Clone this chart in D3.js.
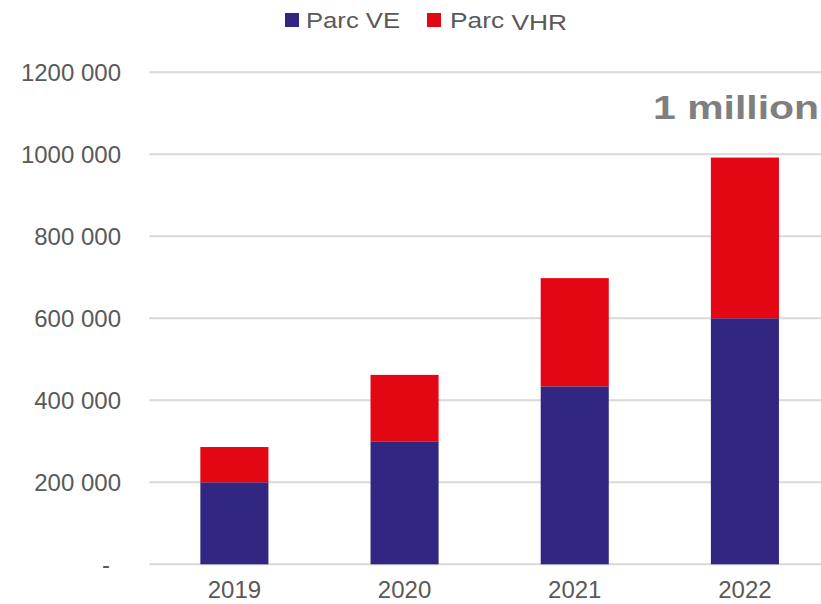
<!DOCTYPE html>
<html>
<head>
<meta charset="utf-8">
<script src="https://cdn.jsdelivr.net/npm/d3@7"></script>
<style>
  body { margin: 0; background: #fff; }
  svg { display: block; font-family: "Liberation Sans", Arial, sans-serif; }
</style>
</head>
<body>
<script>
// data
var years = ['2019', '2020', '2021', '2022'];
var parcVE = [200000, 300000, 434000, 600000];
var parcVHR = [86000, 162000, 264000, 392000];
var yTicks = [0, 200000, 400000, 600000, 800000, 1000000, 1200000];
var tickLabels = ['-', '200 000', '400 000', '600 000', '800 000', '1000 000', '1200 000'];

var svgWidth = 821;
var svgHeight = 604;
var blue = '#312783';
var red = '#e30613';
var textColor = '#595959';

var svg = d3.select('body').append('svg').attr('width', svgWidth).attr('height', svgHeight);

var x = d3.scaleBand().domain(years).range([149.3, 830]).paddingInner(0.6).paddingOuter(0.3);
var y = d3.scaleLinear().domain([0, 1200000]).range([564.3, 72.3]);

// gridlines
svg.append('g').selectAll('line').data(yTicks).enter().append('line')
  .attr('x1', 149.3).attr('x2', 830)
  .attr('y1', function(d) { return y(d); })
  .attr('y2', function(d) { return y(d); })
  .attr('stroke', '#d9d9d9').attr('stroke-width', 2);

// y labels
svg.append('g').selectAll('text').data(yTicks).enter().append('text')
  .attr('x', function(d, i) { return i === 0 ? 110 : 121; })
  .attr('y', function(d) { return y(d); })
  .attr('dy', '0.35em')
  .attr('text-anchor', 'end')
  .attr('font-size', 24)
  .attr('fill', textColor)
  .text(function(d, i) { return tickLabels[i]; });

// stacked bars
var stacked = years.map(function(yr, i) {
  return { year: yr, ve: parcVE[i], vhr: parcVHR[i] };
});
var series = d3.stack().keys(['ve', 'vhr'])(stacked);
var colors = { ve: blue, vhr: red };

svg.append('g').selectAll('g').data(series).enter().append('g')
  .attr('fill', function(s) { return colors[s.key]; })
  .selectAll('rect').data(function(s) { return s; }).enter().append('rect')
  .attr('x', function(d) { return x(d.data.year); })
  .attr('width', x.bandwidth())
  .attr('y', function(d) { return y(d[1]); })
  .attr('height', function(d) { return y(d[0]) - y(d[1]); });

// x labels (kept just inside the bottom edge)
svg.append('g').selectAll('text').data(years).enter().append('text')
  .attr('x', function(d) { return x(d) + x.bandwidth() / 2; })
  .attr('y', 598)
  .attr('text-anchor', 'middle')
  .attr('font-size', 24)
  .attr('fill', textColor)
  .text(function(d) { return d; });

// legend
var legend = svg.append('g');
legend.append('rect').attr('x', 285).attr('y', 13).attr('width', 14).attr('height', 14).attr('fill', blue);
legend.append('text').attr('x', 306).attr('y', 28).attr('font-size', 22).attr('fill', textColor)
  .attr('textLength', 94).attr('lengthAdjust', 'spacingAndGlyphs')
  .text('Parc VE');
legend.append('rect').attr('x', 427).attr('y', 13).attr('width', 14).attr('height', 14).attr('fill', red);
var vhr = legend.append('text').attr('x', 450).attr('y', 28).attr('font-size', 22).attr('fill', textColor)
  .attr('textLength', 117).attr('lengthAdjust', 'spacingAndGlyphs');
vhr.append('tspan').text('Parc ');
vhr.append('tspan').attr('dy', 2).text('VHR');

// annotation
svg.append('text')
  .attr('x', 819).attr('y', 118.5)
  .attr('text-anchor', 'end')
  .attr('font-size', 33).attr('font-weight', 'bold')
  .attr('fill', '#7f7f7f')
  .attr('textLength', 166).attr('lengthAdjust', 'spacingAndGlyphs')
  .text('1 million');
</script>
</body>
</html>
